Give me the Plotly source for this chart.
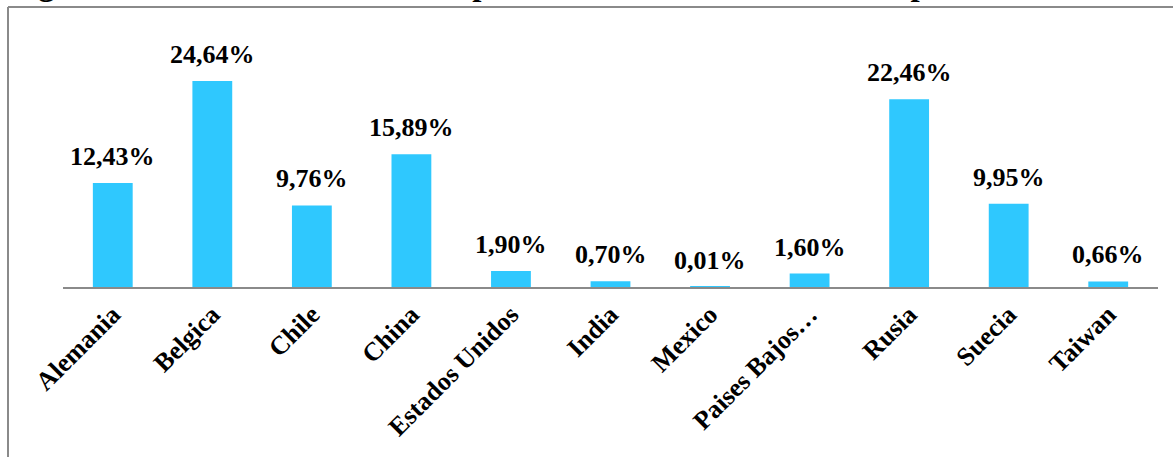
import plotly.graph_objects as go

categories = ["Alemania", "Belgica", "Chile", "China", "Estados Unidos", "India",
              "Mexico", "Paises Bajos…", "Rusia", "Suecia", "Taiwan"]
values = [12.43, 24.64, 9.76, 15.89, 1.90, 0.70, 0.01, 1.60, 22.46, 9.95, 0.66]
labels = ["12,43%", "24,64%", "9,76%", "15,89%", "1,90%", "0,70%", "0,01%",
          "1,60%", "22,46%", "9,95%", "0,66%"]
title_text = "Figura 14. Procedencia de la Subpartida Arancelaria Sulfato de potasio 2019"

W, H = 1173, 457
# plot area in window pixels
PX0, PX1, PY0, PY1 = 63, 1158, 37, 287
L, R, T, B = PX0, W - PX1, PY0, H - PY1
pw, ph = PX1 - PX0, PY1 - PY0

def px_x(p):
    return (p - PX0) / pw

def px_y(p):
    return (PY1 - p) / ph

FONT = "'Liberation Serif', Tinos, 'Times New Roman', Times, 'Nimbus Roman', 'DejaVu Serif', serif"
fig = go.Figure()
fig.add_trace(go.Bar(
    x=categories, y=values, width=0.4,
    marker=dict(color="#2fc8fe", line=dict(width=0)),
    hoverinfo="skip",
))

annotations = []
for c, v, t in zip(categories, values, labels):
    annotations.append(dict(
        x=c, y=v, xref="x", yref="y", text="<b>%s</b>" % t, showarrow=False,
        yanchor="bottom", xanchor="center", yshift=10,
        font=dict(family=FONT, size=26, color="black"),
    ))
annotations.append(dict(
    x=px_x(8), y=px_y(3), xref="paper", yref="paper", xanchor="left", yanchor="bottom",
    text="<b>%s</b>" % title_text, showarrow=False, borderpad=0,
    font=dict(family=FONT, size=33, color="black"),
))

shapes = [
    dict(type="line", xref="paper", yref="paper", x0=px_x(8), x1=px_x(8),
         y0=px_y(7), y1=px_y(H + 10), line=dict(color="#8a8a8a", width=2)),
    dict(type="line", xref="paper", yref="paper", x0=px_x(8), x1=px_x(W + 10),
         y0=px_y(7), y1=px_y(7), line=dict(color="#8a8a8a", width=2)),
]

fig.update_layout(
    width=W, height=H,
    margin=dict(l=L, r=R, t=T, b=B, pad=0),
    paper_bgcolor="white", plot_bgcolor="white",
    showlegend=False,
    font=dict(family=FONT),
    annotations=annotations,
    shapes=shapes,
    xaxis=dict(
        showline=True, linecolor="#8a8a8a", linewidth=2, showgrid=False,
        ticks="", tickangle=-45, zeroline=False,
        tickfont=dict(family=FONT, size=26, color="black"),
        tickvals=categories, ticktext=["<b>%s</b>" % c for c in categories],
    ),
    yaxis=dict(range=[0, 29.9], visible=False, showgrid=False, zeroline=False),
)

fig.write_html("out.html", config={"displayModeBar": False},
               post_script="document.body.style.margin='0px';")
